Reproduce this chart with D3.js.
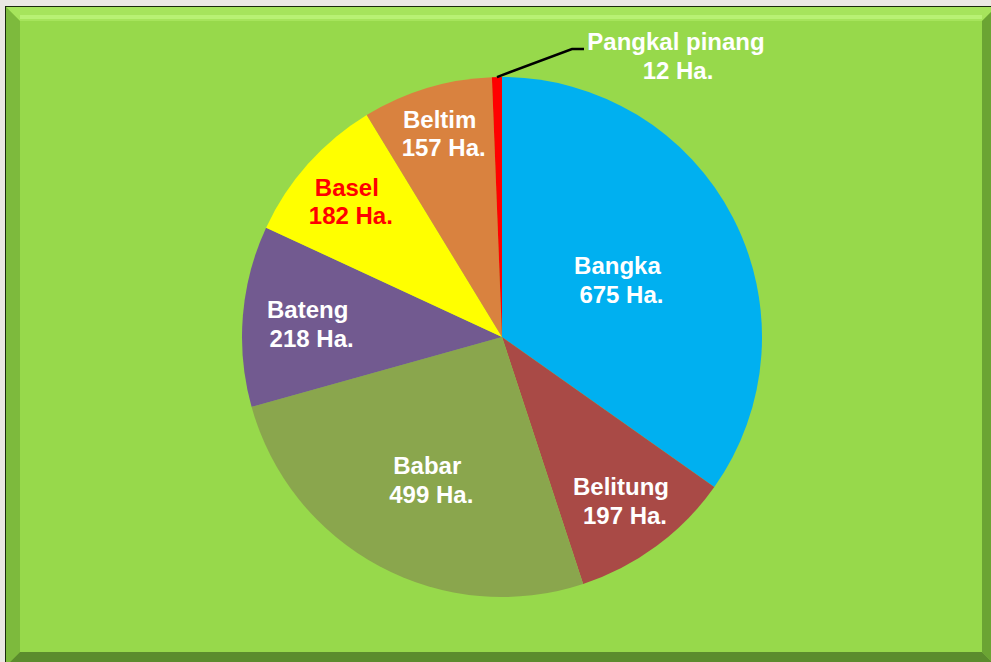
<!DOCTYPE html>
<html>
<head>
<meta charset="utf-8">
<script src="https://cdnjs.cloudflare.com/ajax/libs/d3/7.8.5/d3.min.js"></script>
<style>
  html, body { margin: 0; padding: 0; background: #ebe8e3; }
  svg { display: block; }
  text { font-family: "Liberation Sans", Arial, sans-serif; font-weight: bold; }
</style>
</head>
<body>
<svg id="chart" width="991" height="662"></svg>
<script>
// data (Ha.)
var regions = ["Bangka", "Belitung", "Babar", "Bateng", "Basel", "Beltim", "Pangkal pinang"];
var areas = [675, 197, 499, 218, 182, 157, 12];
var sliceColors = ["#00b0f0", "#a94a46", "#8aa64d", "#725a90", "#ffff00", "#d9823f", "#ff0000"];
var labelColors = ["#fff", "#fff", "#fff", "#fff", "#ff0000", "#fff", "#fff"];
// how far out each label sits, as a fraction of the radius (0 = callout)
var labelRadius = [0.5, 0.77, 0.61, 0.75, 0.8, 0.83, 0];

var W = 991, H = 662;
var cx = 502, cy = 337, R = 260;

var svg = d3.select("#chart");

// page behind the panel
svg.append("rect").attr("width", W).attr("height", H).attr("fill", "#ebe8e3");

// green panel with a bevel
var x0 = 6, y0 = 7, x1 = 996, y1 = 666, bev = 14;
svg.append("rect")
    .attr("x", x0 - 1).attr("y", y0 - 1)
    .attr("width", x1 - x0 + 2).attr("height", y1 - y0 + 2)
    .attr("fill", "#1a2a0c");
svg.append("rect")
    .attr("x", x0).attr("y", y0)
    .attr("width", x1 - x0).attr("height", y1 - y0)
    .attr("fill", "#97d94b");

var bevels = [
  {pts: [[x0, y0], [x1, y0], [x1 - bev, y0 + bev], [x0 + bev, y0 + bev]], fill: "#a6e45c"},
  {pts: [[x0, y0], [x0 + bev, y0 + bev], [x0 + bev, y1 - bev], [x0, y1]], fill: "#7dba3d"},
  {pts: [[x1, y0], [x1, y1], [x1 - bev, y1 - bev], [x1 - bev, y0 + bev]], fill: "#6ba433"},
  {pts: [[x0, y1], [x0 + bev, y1 - bev], [x1 - bev, y1 - bev], [x1, y1]], fill: "#5b8c2d"}
];
svg.selectAll("polygon.bevel")
  .data(bevels)
  .enter().append("polygon")
    .attr("class", "bevel")
    .attr("points", function(d) { return d.pts.map(function(p) { return p.join(","); }).join(" "); })
    .attr("fill", function(d) { return d.fill; });

// thin highlight line along top bevel
svg.append("line")
    .attr("x1", x0 + bev).attr("x2", x1 - bev)
    .attr("y1", y0 + bev - 4).attr("y2", y0 + bev - 4)
    .attr("stroke", "#b8f174").attr("stroke-width", 4);

var data = regions.map(function(r, i) { return {name: r, value: areas[i], i: i}; });

var pie = d3.pie()
    .value(function(d) { return d.value; })
    .sort(null);

var arc = d3.arc().innerRadius(0).outerRadius(R);

var arcs = pie(data);

var g = svg.append("g").attr("transform", "translate(" + cx + "," + cy + ")");

g.selectAll("path")
  .data(arcs)
  .enter().append("path")
    .attr("d", arc)
    .attr("fill", function(d) { return sliceColors[d.data.i]; });

// inside labels
var fontSize = 24;
arcs.forEach(function(d) {
  var k = labelRadius[d.data.i];
  if (!k) return;
  var a = (d.startAngle + d.endAngle) / 2;
  var lx = Math.sin(a) * R * k, ly = -Math.cos(a) * R * k;
  var t = g.append("text")
      .attr("text-anchor", "middle")
      .attr("fill", labelColors[d.data.i])
      .style("font-size", fontSize + "px")
      .attr("x", lx).attr("y", ly);
  t.append("tspan").attr("x", lx).attr("dy", "-0.12em").text(d.data.name);
  t.append("tspan").attr("x", lx + 4).attr("dy", "1.2em").text(d.data.value + " Ha.");
});

// callout for the tiny slice
var small = arcs[6];
var am = (small.startAngle + small.endAngle) / 2;
var p0 = [Math.sin(am) * R, -Math.cos(am) * R];
var p1 = [70, -288];
var p2 = [82, -288];
g.append("polyline")
    .attr("points", [p0, p1, p2].map(function(p) { return p.join(","); }).join(" "))
    .attr("fill", "none")
    .attr("stroke", "#000")
    .attr("stroke-width", 2.5);

var ct = g.append("text")
    .attr("text-anchor", "middle")
    .attr("fill", "#fff")
    .style("font-size", "24px");
ct.append("tspan").attr("x", 174).attr("y", -287).text(regions[6]);
ct.append("tspan").attr("x", 176).attr("dy", "1.2em").text(areas[6] + " Ha.");
</script>
</body>
</html>
